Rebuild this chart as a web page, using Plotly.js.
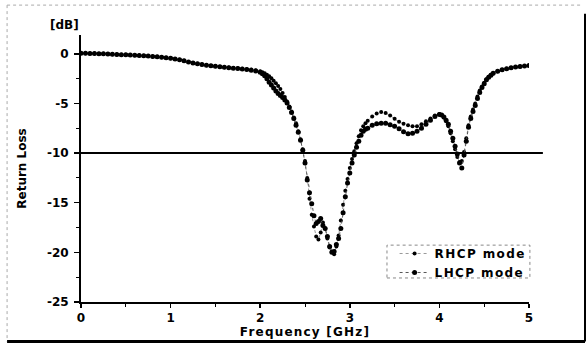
<!DOCTYPE html>
<html>
<head>
<meta charset="utf-8">
<script src="https://cdn.plot.ly/plotly-3.0.1.min.js"></script>
<style>
html,body{margin:0;padding:0;background:#fff;}
#chart{width:586px;height:345px;}
.legendtext{letter-spacing:1.4px;}
.xtitle{letter-spacing:1.2px;}
</style>
</head>
<body>
<div id="chart"></div>
<script>
// Frequency sweep [GHz]
const freq = [
  0,0.05,0.1,0.15,0.2,0.25,0.3,0.35,0.4,0.45,0.5,0.55,0.6,0.65,0.7,0.75,0.8,0.85,0.9,0.95,
  1.0,1.05,1.1,1.15,1.2,1.25,1.3,1.35,1.4,1.45,1.5,1.55,1.6,1.65,1.7,1.75,1.8,1.85,1.9,1.95,2.0,
  2.025,2.05,2.075,2.1,2.125,2.15,2.175,2.2,2.225,2.25,2.275,2.3,2.325,2.35,2.375,2.4,2.425,2.45,2.475,
  2.5,2.525,2.55,2.575,2.6,2.625,2.65,2.675,2.7,2.725,2.75,2.775,2.8,2.825,2.85,2.875,2.9,2.925,2.95,2.975,
  3.0,3.025,3.05,3.075,3.1,3.125,3.15,3.175,3.2,
  3.25,3.3,3.35,3.4,3.45,3.5,3.55,3.6,3.65,3.7,3.75,3.8,3.85,3.9,3.95,4.0,
  4.025,4.05,4.075,4.1,4.125,4.15,4.175,4.2,4.225,4.25,4.275,4.3,4.325,4.35,4.375,4.4,4.425,4.45,4.475,4.5,4.525,4.55,4.575,4.6,
  4.65,4.7,4.75,4.8,4.85,4.9,4.95,5.0
];

// RHCP mode return loss [dB]
const rhcp = [
  0.05,0.05,0.04,0.03,0.02,0.0,-0.02,-0.04,-0.06,-0.08,-0.1,-0.12,-0.14,-0.16,-0.19,-0.22,-0.26,-0.3,-0.35,-0.4,
  -0.45,-0.52,-0.6,-0.7,-0.82,-0.92,-1.0,-1.08,-1.15,-1.2,-1.25,-1.3,-1.34,-1.38,-1.42,-1.46,-1.5,-1.54,-1.58,-1.65,-1.75,
  -1.85,-1.95,-2.1,-2.25,-2.45,-2.7,-2.95,-3.25,-3.55,-3.95,-4.35,-4.8,-5.3,-5.8,-6.4,-7.0,-7.8,-8.6,-9.6,
  -10.8,-12.5,-14.6,-16.2,-17.4,-18.4,-18.7,-18.0,-17.0,-17.6,-18.6,-19.5,-19.9,-20.2,-19.4,-18.3,-16.8,-15.2,-13.8,-12.6,
  -11.5,-10.6,-9.8,-9.0,-8.3,-7.7,-7.3,-7.0,-6.75,
  -6.3,-6.0,-5.85,-5.95,-6.2,-6.55,-6.85,-7.05,-7.2,-7.3,-7.3,-7.1,-6.8,-6.5,-6.2,-6.05,
  -6.15,-6.4,-6.8,-7.3,-8.0,-8.8,-9.6,-10.4,-10.9,-10.8,-9.9,-8.5,-7.2,-6.3,-5.6,-5.0,-4.3,-3.7,-3.3,-2.9,-2.55,-2.3,-2.1,-1.95,
  -1.75,-1.6,-1.5,-1.4,-1.32,-1.27,-1.22,-1.18
];

// LHCP mode return loss [dB]
const lhcp = [
  0.05,0.05,0.04,0.03,0.02,0.0,-0.02,-0.04,-0.06,-0.08,-0.1,-0.12,-0.14,-0.16,-0.19,-0.22,-0.26,-0.3,-0.35,-0.4,
  -0.45,-0.52,-0.6,-0.7,-0.82,-0.92,-1.0,-1.08,-1.15,-1.2,-1.25,-1.3,-1.35,-1.4,-1.44,-1.48,-1.53,-1.58,-1.64,-1.72,-1.85,
  -2.0,-2.2,-2.5,-2.85,-3.15,-3.45,-3.75,-4.0,-4.2,-4.4,-4.65,-4.95,-5.4,-5.9,-6.5,-7.2,-7.9,-8.7,-9.7,
  -11.0,-12.7,-14.0,-15.1,-16.3,-17.1,-16.9,-16.6,-17.3,-17.6,-18.4,-19.4,-20.0,-19.9,-19.2,-18.6,-17.6,-16.0,-14.4,-13.0,
  -12.0,-11.0,-10.2,-9.4,-8.8,-8.2,-7.8,-7.6,-7.5,
  -7.2,-7.05,-7.0,-7.0,-7.15,-7.3,-7.55,-7.85,-8.05,-8.0,-7.8,-7.5,-7.1,-6.7,-6.3,-6.1,
  -6.15,-6.35,-6.7,-7.1,-7.8,-8.5,-9.3,-10.1,-11.0,-11.5,-10.2,-8.8,-7.4,-6.5,-5.8,-5.2,-4.5,-3.9,-3.4,-3.0,-2.6,-2.35,-2.15,-1.95,
  -1.75,-1.6,-1.5,-1.4,-1.32,-1.27,-1.22,-1.18
];

const seriesNames = ['RHCP mode', 'LHCP mode'];
const threshold = -10;
const xTicks = [0, 1, 2, 3, 4, 5];
const yTicks = [0, -5, -10, -15, -20, -25];

const fam = 'DejaVu Sans, Verdana, sans-serif';
const bold = {family: fam, size: 12, color: '#000', weight: 'bold'};

const traces = [
  {
    x: freq, y: rhcp, name: seriesNames[0], type: 'scatter', mode: 'lines+markers',
    line: {color: '#999', width: 1, dash: 'dot'},
    marker: {color: '#000', size: 4, symbol: 'circle'}
  },
  {
    x: freq, y: lhcp, name: seriesNames[1], type: 'scatter', mode: 'lines+markers',
    line: {color: '#555', width: 1, dash: 'dot'},
    marker: {color: '#000', size: 5, symbol: 'circle'}
  }
];

const layout = {
  width: 586, height: 345,
  margin: {l: 81, r: 57, t: 35, b: 43},
  paper_bgcolor: '#fff', plot_bgcolor: '#fff',
  showlegend: true,
  font: bold,
  xaxis: {
    range: [0, 5], tickvals: xTicks, ticktext: xTicks.map(String),
    showline: true, linecolor: '#000', linewidth: 2, showgrid: false, zeroline: false,
    ticks: 'outside', ticklen: 4, tickwidth: 1.5, tickcolor: '#000',
    minor: {dtick: 0.5, ticks: 'outside', ticklen: 3, tickwidth: 1, tickcolor: '#000', showgrid: false},
    tickfont: bold,
    title: {text: 'Frequency [GHz]', font: bold, standoff: 2}
  },
  yaxis: {
    range: [-25, 1.9], tickvals: yTicks, ticktext: yTicks.map(String),
    showline: true, linecolor: '#000', linewidth: 2, showgrid: false, zeroline: false,
    ticks: 'outside', ticklen: 5, tickwidth: 1.5, tickcolor: '#000', ticklabelstandoff: 3,
    minor: {dtick: 2.5, ticks: 'outside', ticklen: 3, tickwidth: 1, tickcolor: '#000', showgrid: false},
    tickfont: bold,
    title: {text: 'Return Loss', font: bold, standoff: 18}
  },
  legend: {
    x: 0.70, y: 0.236, xanchor: 'left', yanchor: 'top',
    bgcolor: 'rgba(255,255,255,0)', borderwidth: 0,
    font: bold, itemwidth: 30, tracegroupgap: 0
  },
  annotations: [
    {text: '[dB]', xref: 'paper', yref: 'paper', x: 0.0, y: 1.037, xanchor: 'right', yanchor: 'middle',
     showarrow: false, font: bold}
  ],
  shapes: [
    {type: 'line', xref: 'paper', yref: 'y', x0: 0, x1: 1.031, y0: threshold, y1: threshold,
     line: {color: '#000', width: 2}},
    {type: 'rect', xref: 'paper', yref: 'paper', x0: 0.683, x1: 1.002, y0: 0.09, y1: 0.213,
     line: {color: '#888', width: 1, dash: 'dot'}},
    {type: 'line', xref: 'paper', yref: 'paper', x0: -0.165, x1: 1.12, y0: 1.112, y1: 1.112,
     line: {color: '#aaa', width: 1, dash: 'dot'}},
    {type: 'line', xref: 'paper', yref: 'paper', x0: -0.165, x1: -0.165, y0: 1.112, y1: -0.148,
     line: {color: '#aaa', width: 1, dash: 'dot'}},
    {type: 'line', xref: 'paper', yref: 'paper', x0: -0.165, x1: 1.125, y0: -0.148, y1: -0.148,
     line: {color: '#000', width: 3}},
    {type: 'line', xref: 'paper', yref: 'paper', x0: 1.125, x1: 1.125, y0: 1.08, y1: -0.148,
     line: {color: '#000', width: 2}}
  ]
};

Plotly.newPlot('chart', traces, layout, {staticPlot: true, displayModeBar: false});
</script>
</body>
</html>
